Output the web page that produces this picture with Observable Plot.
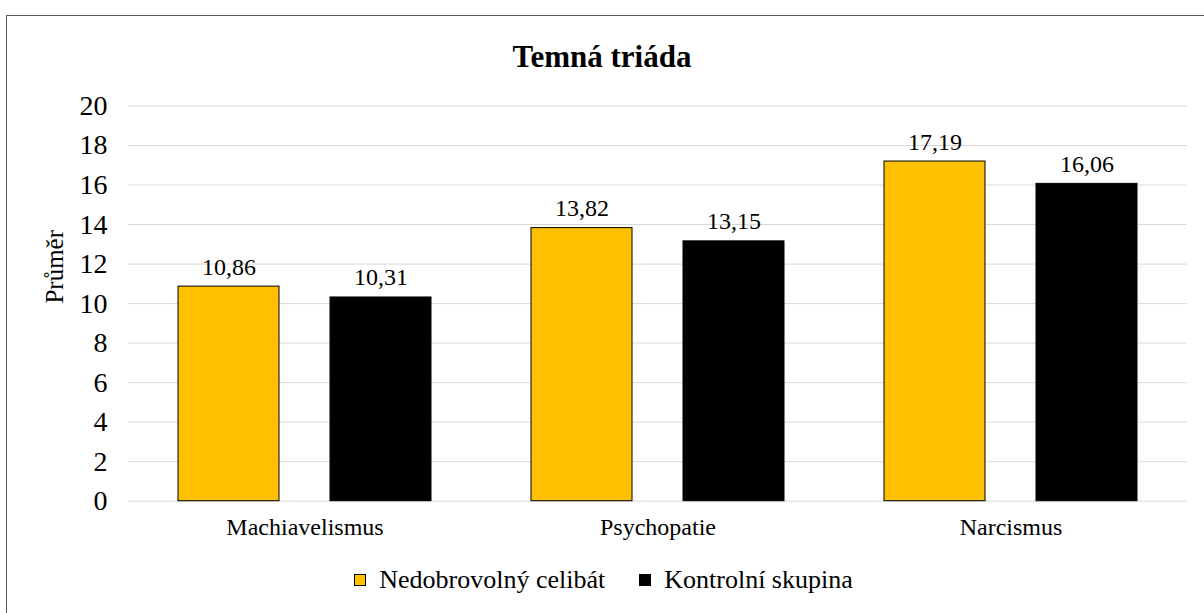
<!DOCTYPE html>
<html><head><meta charset="utf-8">
<script src="https://cdn.jsdelivr.net/npm/d3@7"></script>
<script src="https://cdn.jsdelivr.net/npm/@observablehq/plot@0.6"></script>
<style>
html,body{margin:0;padding:0;background:#fff;overflow:hidden;width:1204px;height:613px;}
body{position:relative;font-family:"Liberation Serif","Times New Roman",serif;color:#000;}
#frame{position:absolute;left:6px;top:15px;width:1300px;height:700px;border:1.5px solid #595959;box-sizing:border-box;}
#title{position:absolute;left:0;width:1204px;top:41px;text-align:center;font-weight:bold;font-size:31px;line-height:31px;}
#chart{position:absolute;left:0;top:85px;}
#legend{position:absolute;left:0;width:1207px;top:567px;display:flex;justify-content:center;align-items:center;font-size:26px;line-height:26px;}
.item{display:flex;align-items:center;}
.sw{width:12px;height:12px;border:1px solid #000;box-sizing:border-box;margin-right:13px;}
</style></head>
<body>
<div id="frame"></div>
<div id="title">Temná triáda</div>
<div id="chart"></div>
<div id="legend"></div>
<script>
const categories = ["Machiavelismus", "Psychopatie", "Narcismus"];
const groups = ["Nedobrovolný celibát", "Kontrolní skupina"];
const nedobrovolnyCelibat = [10.86, 13.82, 17.19];
const kontrolniSkupina = [10.31, 13.15, 16.06];
const yTicks = [0, 2, 4, 6, 8, 10, 12, 14, 16, 18, 20];
const yLabel = "Průměr";
const colors = ["#FFC000", "#000000"];

const data = categories.flatMap((c, i) => [
  {category: c, group: groups[0], value: nedobrovolnyCelibat[i]},
  {category: c, group: groups[1], value: kontrolniSkupina[i]}
]);
const fmt = v => v.toFixed(2).replace(".", ",");
const serif = "'Liberation Serif', 'Times New Roman', serif";

const chart = Plot.plot({
  width: 1204, height: 470,
  marginTop: 20.5, marginBottom: 54.3, marginLeft: 128, marginRight: 17,
  style: {fontFamily: serif, fontSize: "24px", color: "#000", background: "transparent", overflow: "visible"},
  fx: {domain: categories, padding: 0, label: null},
  x: {domain: groups, paddingInner: 0.336, paddingOuter: 0.329, axis: null},
  y: {domain: [0, 20]},
  color: {domain: groups, range: colors},
  marks: [
    Plot.gridY(yTicks, {stroke: "#d9d9d9", strokeOpacity: 1, strokeWidth: 1}),
    Plot.barY(data, {fx: "category", x: "group", y: "value", fill: "group", stroke: "#000", strokeWidth: 1}),
    Plot.text(data, {fx: "category", x: "group", y: "value", text: d => fmt(d.value), lineAnchor: "bottom", dy: -12, fill: "#000", fontFamily: serif, fontSize: 24}),
    Plot.axisY(yTicks, {tickSize: 0, tickPadding: 21, label: null, fill: "#000", fontFamily: serif, fontSize: 28}),
    Plot.text([yLabel], {fx: () => categories[0], frameAnchor: "left", rotate: -90, dx: -74, text: d => d, fill: "#000", fontFamily: serif, fontSize: 25}),
    Plot.axisFx({anchor: "bottom", tickSize: 0, tickPadding: 17, label: null, fill: "#000", fontFamily: serif, fontSize: 24})
  ]
});
document.getElementById("chart").appendChild(chart);

const legend = document.getElementById("legend");
groups.forEach((g, i) => {
  const it = document.createElement("div");
  it.className = "item";
  if (i > 0) it.style.marginLeft = "34px";
  const sw = document.createElement("div");
  sw.className = "sw";
  sw.style.background = colors[i];
  const t = document.createElement("span");
  t.textContent = g;
  it.appendChild(sw); it.appendChild(t);
  legend.appendChild(it);
});
</script>
</body></html>
